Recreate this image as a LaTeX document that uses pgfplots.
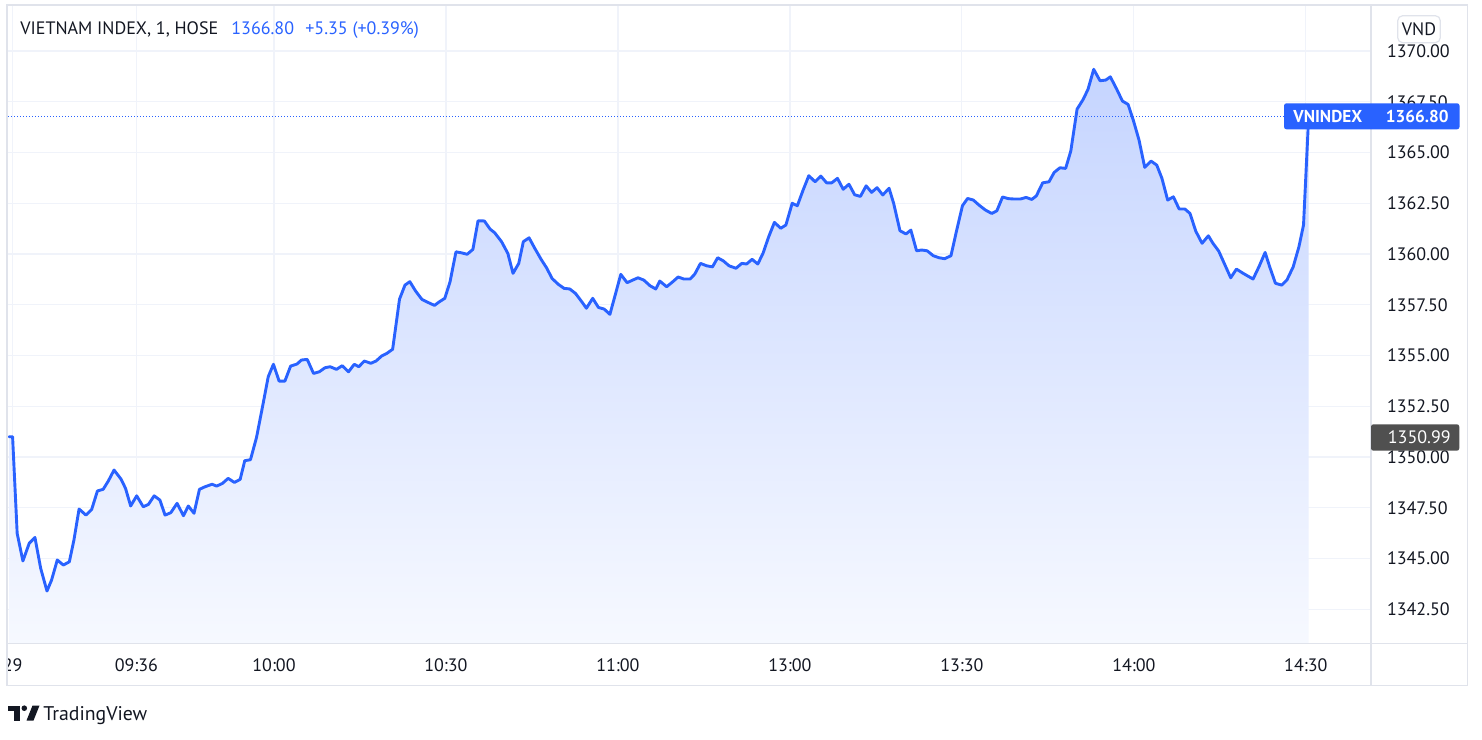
\documentclass[border=0pt]{standalone}
\usepackage{pgfplots}
\pgfplotsset{compat=1.18}
\usepackage{pgfplotstable}
\usepackage{fontspec}
\setmainfont{PT Sans}
\definecolor{tvblue}{RGB}{41,98,255}
\definecolor{textdark}{RGB}{19,23,34}
\definecolor{gridc}{RGB}{240,243,250}
\definecolor{framec}{RGB}{224,227,235}
\definecolor{graylab}{RGB}{80,80,80}
\pgfplotstableread{
t v
-1.2 1351.00
-0.6 1351.00
0.2 1346.24
1.2 1344.88
2.3 1345.75
3.3 1346.04
4.3 1344.52
5.4 1343.40
6.2 1343.94
7.2 1344.93
8.25 1344.68
9.3 1344.84
10.1 1345.91
11.0 1347.44
12.2 1347.14
13.2 1347.42
14.2 1348.33
15.2 1348.41
16.1 1348.82
17.1 1349.36
18.3 1348.92
19.1 1348.46
20.0 1347.59
21.05 1348.09
22.2 1347.55
23.1 1347.67
24.1 1348.09
25.1 1347.88
26.0 1347.14
27.0 1347.26
28.1 1347.72
29.2 1347.11
30.05 1347.59
31.05 1347.23
32.0 1348.41
33.0 1348.54
34.2 1348.66
35.0 1348.57
36.0 1348.70
37.0 1348.95
38.1 1348.75
39.1 1348.90
39.9 1349.82
40.9 1349.87
41.95 1350.96
43.0 1352.48
44.0 1353.96
44.9 1354.57
45.9 1353.74
46.9 1353.74
47.9 1354.48
49.0 1354.58
49.8 1354.78
50.8 1354.81
51.9 1354.12
52.9 1354.20
53.9 1354.40
54.8 1354.45
55.9 1354.32
56.9 1354.50
58.0 1354.20
59.0 1354.57
59.8 1354.45
60.75 1354.73
61.9 1354.62
62.8 1354.73
63.8 1354.98
64.7 1355.11
65.7 1355.31
66.9 1357.78
67.85 1358.47
68.7 1358.64
69.7 1358.18
70.8 1357.77
71.7 1357.64
73.0 1357.47
73.8 1357.64
74.8 1357.82
75.7 1358.62
76.75 1360.11
77.7 1360.06
78.7 1359.99
79.7 1360.23
80.6 1361.64
81.7 1361.63
82.7 1361.23
83.5 1361.05
84.7 1360.61
85.8 1360.03
86.7 1359.05
87.7 1359.54
88.5 1360.61
89.5 1360.80
90.5 1360.28
91.6 1359.74
92.6 1359.30
93.5 1358.80
94.6 1358.51
95.6 1358.31
96.6 1358.28
97.6 1358.06
98.7 1357.65
99.5 1357.33
100.6 1357.82
101.6 1357.37
102.6 1357.29
103.6 1357.03
104.6 1358.06
105.5 1359.00
106.6 1358.59
107.6 1358.72
108.5 1358.83
109.5 1358.72
110.6 1358.44
111.6 1358.28
112.3 1358.67
113.5 1358.39
114.5 1358.62
115.5 1358.87
116.5 1358.77
117.6 1358.77
118.4 1359.01
119.4 1359.54
120.5 1359.42
121.5 1359.37
122.4 1359.82
123.4 1359.66
124.4 1359.42
125.6 1359.30
126.6 1359.54
127.45 1359.51
128.4 1359.74
129.4 1359.51
130.3 1360.03
131.3 1360.85
132.3 1361.56
133.4 1361.27
134.3 1361.43
135.4 1362.50
136.3 1362.38
137.3 1363.15
138.3 1363.86
139.4 1363.56
140.4 1363.84
141.4 1363.51
142.3 1363.51
143.3 1363.73
144.3 1363.19
145.3 1363.44
146.3 1362.92
147.3 1362.84
148.3 1363.36
149.25 1363.04
150.2 1363.27
151.2 1362.91
152.3 1363.24
153.1 1362.50
154.2 1361.15
155.25 1360.99
156.1 1361.18
157.1 1360.16
158.0 1360.20
158.95 1360.16
160.0 1359.92
161.0 1359.82
162.0 1359.77
163.1 1359.92
164.1 1361.18
165.1 1362.38
166.0 1362.74
167.0 1362.66
168.0 1362.41
169.1 1362.17
170.2 1362.00
171.1 1362.13
172.1 1362.81
173.1 1362.73
174.2 1362.71
175.2 1362.71
176.2 1362.79
177.2 1362.69
178.0 1362.87
179.1 1363.51
180.2 1363.56
181.1 1364.02
182.1 1364.25
183.1 1364.22
184.0 1365.07
185.1 1367.14
186.1 1367.59
187.0 1368.11
188.0 1369.10
189.1 1368.54
190.1 1368.57
190.9 1368.73
192.0 1368.13
193.0 1367.54
194.0 1367.37
194.9 1366.60
195.9 1365.62
196.9 1364.27
198.0 1364.58
199.0 1364.38
199.9 1363.73
200.9 1362.66
201.9 1362.82
202.9 1362.22
203.9 1362.22
204.8 1362.00
205.8 1361.13
206.9 1360.53
208.0 1360.90
208.8 1360.53
209.8 1360.15
210.9 1359.46
211.9 1358.83
212.9 1359.26
213.9 1359.08
214.8 1358.93
215.8 1358.77
216.9 1359.42
217.9 1360.08
218.7 1359.37
219.7 1358.56
220.8 1358.47
221.7 1358.72
222.8 1359.37
223.8 1360.36
224.6 1361.43
225.5 1366.80
}\vnindex
\begin{document}
\begin{tikzpicture}
\begin{scope}[x=0.5pt, y=-0.5pt, shift={(0pt,369.5pt)}]
  \fill[white] (0,0) rectangle (1482,739);
  \useasboundingbox (0,0) rectangle (1482,739);
\end{scope}
\begin{axis}[
  at={(4pt,48pt)}, anchor=south west, scale only axis,
  width=681pt, height=318.5pt,
  xmin=-1.4, xmax=236.2, ymin=1340.84, ymax=1372.22,
  axis line style={draw=none},
  major tick length=0pt,
  xtick={-0.6,21,45,75,105,135,165,195,225},
  xticklabels={29,09:36,10:00,10:30,11:00,13:00,13:30,14:00,14:30},
  ytick={1342.5,1345,1347.5,1350,1352.5,1355,1357.5,1360,1362.5,1365,1367.5,1370},
  grid=major, major grid style={gridc, line width=0.6pt},
  yticklabel pos=right,
  /pgf/number format/.cd, fixed, fixed zerofill, precision=2, 1000 sep={}, assume math mode=true,
  /pgfplots/.cd,
  ticklabel style={font=\fontsize{9}{10}\selectfont, text=textdark},
  yticklabel style={anchor=west, inner sep=0pt, xshift=8.3pt},
  xticklabel style={anchor=center, inner sep=0pt, yshift=-11pt},
]
\addplot[draw=none, top color=tvblue!27!white, bottom color=tvblue!4!white] table[x=t,y=v] {\vnindex} \closedcycle;
\addplot[tvblue, line width=0.5pt, dash pattern=on 0.5pt off 1pt] coordinates {(-1.4,1366.8) (221.2,1366.8)};
\addplot[tvblue, line width=1.45pt, line join=round, line cap=round] table[x=t,y=v] {\vnindex};
\end{axis}
\begin{scope}[x=0.5pt, y=-0.5pt, shift={(0pt,369.5pt)}]
  % clip of the first time label
  \fill[white] (0,644.5) rectangle (7.3,685);
  % frame
  \draw[framec, line width=0.9pt] (7.3,5.3) rectangle (1467.5,685.5);
  \draw[framec, line width=0.8pt] (1371,5.3) -- (1371,685.5);
  \draw[framec, line width=0.8pt] (7.3,643.5) -- (1467.5,643.5);
  % header
  \node[anchor=base west, inner sep=0pt, text=textdark, font=\fontsize{9}{10}\selectfont] at (20,35) {VIETNAM INDEX, 1, HOSE};
  \node[anchor=base west, inner sep=0pt, text=tvblue, font=\fontsize{9}{10}\selectfont] at (231,35) {1366.80};
  \node[anchor=base west, inner sep=0pt, text=tvblue, font=\fontsize{9}{10}\selectfont] at (305,35) {+5.35 (+0.39\%)};
  % VND box
  \draw[framec, line width=0.6pt, fill=white, rounded corners=2.5pt] (1397.7,15.7) rectangle (1440.3,42.7);
  \node[anchor=center, inner sep=0pt, text=textdark, font=\fontsize{9}{10}\selectfont] at (1419,29.5) {VND};
  % last value label
  \fill[tvblue, rounded corners=1.2pt] (1284,103.3) rectangle (1459.5,129.3);
  \node[anchor=west, inner sep=0pt, text=white, font=\bfseries\fontsize{8.6}{10}\selectfont] at (1293,116.3) {VNINDEX};
  \node[anchor=east, inner sep=0pt, text=white, font=\bfseries\fontsize{8.6}{10}\selectfont] at (1449,116.3) {1366.80};
  % open value label
  \fill[graylab, rounded corners=1.2pt] (1371,424.3) rectangle (1459.3,450.7);
  \node[anchor=west, inner sep=0pt, text=white, font=\fontsize{9}{10}\selectfont] at (1387.5,437.5) {1350.99};
  % TradingView logo
  \fill[textdark] (7.5,705.5) rectangle (19.5,710.8);
  \fill[textdark] (13.5,705.5) rectangle (19.5,720.5);
  \fill[textdark] (24.3,708.2) circle (2.8);
  \fill[textdark] (26.5,720.5) -- (32.5,705.5) -- (39.5,705.5) -- (33.5,720.5) -- cycle;
  \node[anchor=base west, inner sep=0pt, text=textdark, font=\fontsize{9.9}{12}\selectfont] at (43,720.7) {TradingView};
\end{scope}
\end{tikzpicture}
\end{document}
